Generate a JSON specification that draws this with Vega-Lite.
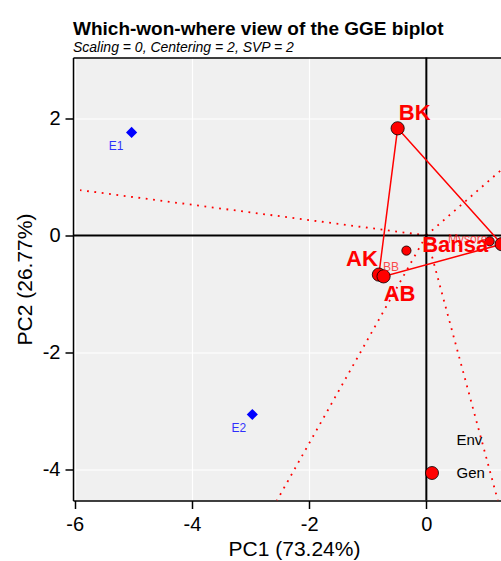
{
  "$schema": "https://vega.github.io/schema/vega-lite/v6.json",
  "width": 428,
  "height": 443,
  "autosize": {"type": "none"},
  "padding": {"left": 73, "top": 57.5, "right": 0, "bottom": 60.5},
  "background": "white",
  "view": {"fill": "#f0f0f0", "stroke": null},
  "title": {
    "text": "Which-won-where view of the GGE biplot",
    "subtitle": "Scaling = 0, Centering = 2, SVP = 2",
    "anchor": "start",
    "frame": "group",
    "font": "Liberation Sans",
    "fontSize": 19,
    "fontWeight": "bold",
    "color": "black",
    "subtitleFont": "Liberation Sans",
    "subtitleFontSize": 14,
    "subtitleFontStyle": "italic",
    "subtitleColor": "black",
    "subtitlePadding": 2,
    "offset": 2
  },
  "config": {
    "font": "Liberation Sans",
    "axis": {
      "grid": true,
      "gridColor": "white",
      "gridWidth": 1.2,
      "domainColor": "black",
      "domainWidth": 1.5,
      "tickColor": "black",
      "tickWidth": 1.5,
      "tickSize": 8,
      "labelFont": "Liberation Sans",
      "labelFontSize": 20,
      "labelColor": "black",
      "titleFont": "Liberation Sans",
      "titleFontSize": 21,
      "titleFontWeight": "normal",
      "titleColor": "black",
      "labelExpr": "'' + datum.value"
    },
    "axisX": {"labelPadding": 6, "titlePadding": 4},
    "axisY": {"labelPadding": 5, "titlePadding": 7},
    "legend": {"orient": "none", "legendX": 351.5, "legendY": 375, "labelFont": "Liberation Sans", "labelFontSize": 15, "labelColor": "black", "symbolSize": 169, "symbolStrokeWidth": 0.8, "symbolType": "circle", "labelOffset": 17, "rowPadding": 16, "padding": 0}
  },
  "datasets": {
    "pts": [
      {"name": "BK", "type": "Gen", "pc1": -0.49, "pc2": 1.83, "vertex": "yes"},
      {"name": "AK", "type": "Gen", "pc1": -0.81, "pc2": -0.67, "vertex": "yes"},
      {"name": "AB", "type": "Gen", "pc1": -0.73, "pc2": -0.70, "vertex": "yes"},
      {"name": "BB", "type": "Gen", "pc1": -0.34, "pc2": -0.26, "vertex": "no"},
      {"name": "Mysore", "type": "Gen", "pc1": 1.08, "pc2": -0.10, "vertex": "no"},
      {"name": "Bansa", "type": "Gen", "pc1": 1.285, "pc2": -0.15, "vertex": "yes"},
      {"name": "E1", "type": "Env", "pc1": -5.03, "pc2": 1.76, "vertex": "no"},
      {"name": "E2", "type": "Env", "pc1": -2.97, "pc2": -3.06, "vertex": "no"}
    ],
    "hull": [
      {"name": "BK", "ord": 1, "pc1": -0.49, "pc2": 1.83},
      {"name": "Bansa", "ord": 2, "pc1": 1.285, "pc2": -0.15},
      {"name": "AB", "ord": 3, "pc1": -0.73, "pc2": -0.70},
      {"name": "AK", "ord": 4, "pc1": -0.81, "pc2": -0.67},
      {"name": "BK", "ord": 5, "pc1": -0.49, "pc2": 1.83}
    ],
    "rays": [
      {"ray": 1, "seq": 0, "pc1": 0, "pc2": 0},
      {"ray": 1, "seq": 1, "pc1": -5.91, "pc2": 0.774},
      {"ray": 2, "seq": 0, "pc1": 0, "pc2": 0},
      {"ray": 2, "seq": 1, "pc1": 2.0, "pc2": 1.75},
      {"ray": 3, "seq": 0, "pc1": 0, "pc2": 0},
      {"ray": 3, "seq": 1, "pc1": -2.55, "pc2": -4.53},
      {"ray": 4, "seq": 0, "pc1": 0, "pc2": 0},
      {"ray": 4, "seq": 1, "pc1": 1.22, "pc2": -4.53}
    ]
  },
  "resolve": {"axis": {"x": "independent"}},
  "layer": [
    {
      "data": {"name": "rays"},
      "mark": {"type": "line", "color": "#ff0000", "strokeWidth": 1.8, "strokeDash": [1.8, 5.6], "clip": true},
      "encoding": {
        "x": {"field": "pc1", "type": "quantitative", "scale": {"domain": [-6.03, 1.274], "nice": false, "zero": false},
              "axis": {"values": [-6, -4, -2, 0], "title": "PC1 (73.24%)", "titleX": 221}},
        "y": {"field": "pc2", "type": "quantitative", "scale": {"domain": [-4.53, 3.04], "nice": false, "zero": false},
              "axis": {"values": [-4, -2, 0, 2], "title": "PC2 (26.77%)"}},
        "detail": {"field": "ray"},
        "order": {"field": "seq"}
      }
    },
    {
      "data": {"values": [{}]},
      "mark": {"type": "rule", "color": "black", "strokeWidth": 2},
      "encoding": {
        "x": {"datum": 0, "axis": {"orient": "top", "labels": false, "ticks": false, "grid": false, "title": null, "domainColor": "black", "domainWidth": 1.5}}
      }
    },
    {
      "data": {"values": [{}]},
      "mark": {"type": "rule", "color": "black", "strokeWidth": 2},
      "encoding": {"y": {"datum": 0}}
    },
    {
      "data": {"name": "hull"},
      "mark": {"type": "line", "color": "#ff0000", "strokeWidth": 1.5, "clip": true},
      "encoding": {
        "x": {"field": "pc1", "type": "quantitative", "axis": null},
        "y": {"field": "pc2", "type": "quantitative"},
        "order": {"field": "ord"}
      }
    },
    {
      "data": {"name": "pts"},
      "transform": [{"filter": "datum.type === 'Env'"}],
      "mark": {"type": "point", "filled": true, "shape": "diamond", "color": "#0000ff", "size": 125, "opacity": 1},
      "encoding": {
        "x": {"field": "pc1", "type": "quantitative", "axis": null},
        "y": {"field": "pc2", "type": "quantitative"}
      }
    },
    {
      "data": {"name": "pts"},
      "transform": [{"filter": "datum.type === 'Gen'"}],
      "mark": {"type": "point", "filled": true, "shape": "circle", "strokeWidth": 0.8, "opacity": 1},
      "encoding": {
        "x": {"field": "pc1", "type": "quantitative", "axis": null},
        "y": {"field": "pc2", "type": "quantitative"},
        "size": {"field": "vertex", "type": "nominal", "scale": {"domain": ["no", "yes"], "range": [85, 175]}, "legend": null},
        "color": {"field": "type", "type": "nominal", "scale": {"domain": ["Env", "Gen"], "range": ["transparent", "#ff0000"]}, "legend": {"title": null}},
        "stroke": {"field": "type", "type": "nominal", "scale": {"domain": ["Env", "Gen"], "range": ["transparent", "black"]}, "legend": {"title": null}}
      }
    },
    {
      "data": {"name": "pts"},
      "transform": [{"filter": "datum.name === 'BK'"}],
      "mark": {"type": "text", "font": "Liberation Sans", "fontSize": 22, "fontWeight": "bold", "color": "#ff0000", "dx": 17, "dy": -15.5},
      "encoding": {"x": {"field": "pc1", "type": "quantitative", "axis": null}, "y": {"field": "pc2", "type": "quantitative"}, "text": {"field": "name"}}
    },
    {
      "data": {"name": "pts"},
      "transform": [{"filter": "datum.name === 'AK'"}],
      "mark": {"type": "text", "font": "Liberation Sans", "fontSize": 22, "fontWeight": "bold", "color": "#ff0000", "dx": -17, "dy": -15.5},
      "encoding": {"x": {"field": "pc1", "type": "quantitative", "axis": null}, "y": {"field": "pc2", "type": "quantitative"}, "text": {"field": "name"}}
    },
    {
      "data": {"name": "pts"},
      "transform": [{"filter": "datum.name === 'AB'"}],
      "mark": {"type": "text", "font": "Liberation Sans", "fontSize": 22, "fontWeight": "bold", "color": "#ff0000", "dx": 16, "dy": 17.5},
      "encoding": {"x": {"field": "pc1", "type": "quantitative", "axis": null}, "y": {"field": "pc2", "type": "quantitative"}, "text": {"field": "name"}}
    },
    {
      "data": {"name": "pts"},
      "transform": [{"filter": "datum.name === 'Mysore'"}],
      "mark": {"type": "text", "font": "Liberation Sans", "fontSize": 12, "color": "#ff0000", "opacity": 0.7, "dx": -22, "dy": -2},
      "encoding": {"x": {"field": "pc1", "type": "quantitative", "axis": null}, "y": {"field": "pc2", "type": "quantitative"}, "text": {"field": "name"}}
    },
    {
      "data": {"name": "pts"},
      "transform": [{"filter": "datum.name === 'Bansa'"}],
      "mark": {"type": "text", "font": "Liberation Sans", "fontSize": 22, "fontWeight": "bold", "color": "#ff0000", "dx": -46.5, "dy": 0.5},
      "encoding": {"x": {"field": "pc1", "type": "quantitative", "axis": null}, "y": {"field": "pc2", "type": "quantitative"}, "text": {"field": "name"}}
    },
    {
      "data": {"name": "pts"},
      "transform": [{"filter": "datum.name === 'BB'"}],
      "mark": {"type": "text", "font": "Liberation Sans", "fontSize": 12, "color": "#ff0000", "opacity": 0.7, "dx": -15.5, "dy": 16},
      "encoding": {"x": {"field": "pc1", "type": "quantitative", "axis": null}, "y": {"field": "pc2", "type": "quantitative"}, "text": {"field": "name"}}
    },
    {
      "data": {"name": "pts"},
      "transform": [{"filter": "datum.name === 'E1'"}],
      "mark": {"type": "text", "font": "Liberation Sans", "fontSize": 12, "color": "#0000ff", "opacity": 0.8, "dx": -15.5, "dy": 14},
      "encoding": {"x": {"field": "pc1", "type": "quantitative", "axis": null}, "y": {"field": "pc2", "type": "quantitative"}, "text": {"field": "name"}}
    },
    {
      "data": {"name": "pts"},
      "transform": [{"filter": "datum.name === 'E2'"}],
      "mark": {"type": "text", "font": "Liberation Sans", "fontSize": 12, "color": "#0000ff", "opacity": 0.8, "dx": -13.5, "dy": 13.5},
      "encoding": {"x": {"field": "pc1", "type": "quantitative", "axis": null}, "y": {"field": "pc2", "type": "quantitative"}, "text": {"field": "name"}}
    }
  ]
}
